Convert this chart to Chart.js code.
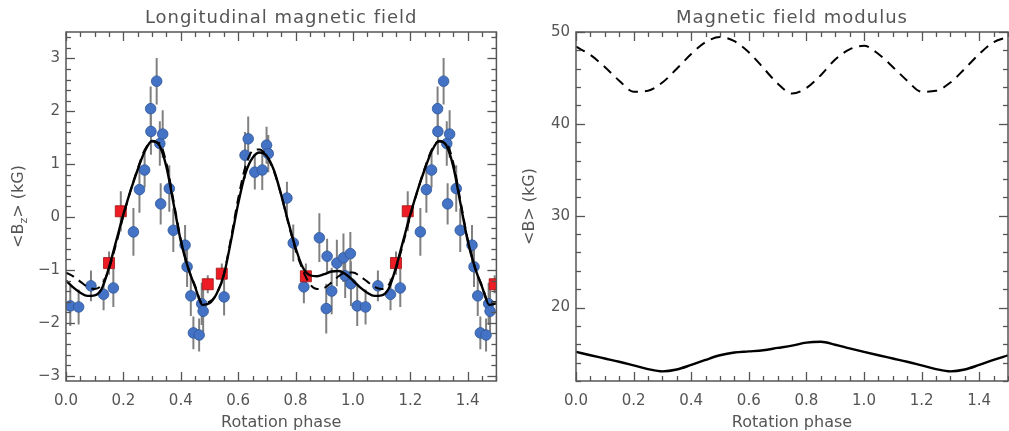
<!DOCTYPE html>
<html><head><meta charset="utf-8">
<script src="https://cdn.jsdelivr.net/npm/chart.js@4.4.1/dist/chart.umd.min.js"></script>
<style>
html,body{margin:0;padding:0;background:#fff;overflow:hidden}
#wrap{position:relative;width:1009px;height:431px;background:#fff}
canvas{position:absolute;top:0}
#c1{left:0}
#c2{left:505px}
</style></head><body>
<div id="wrap"><canvas id="c1" width="505" height="431"></canvas><canvas id="c2" width="504" height="431"></canvas></div>
<script>
// ---------- data ----------
// Longitudinal field measurements (blue circles): phase, <Bz> (kG), error (kG)
const bzPhase = [0.015,0.044,0.087,0.131,0.165,0.235,0.256,0.274,0.295,0.296,0.316,0.327,0.337,0.330,0.360,0.374,0.415,0.422,0.435,0.444,0.464,0.473,0.478,0.551,0.624,0.635,0.658,0.684,0.699,0.705,0.770,0.792,0.829,0.883,0.907,0.910,0.926,0.944,0.967,0.973,0.991,0.993];
const bzValue = [-1.68,-1.70,-1.30,-1.46,-1.34,-0.28,0.52,0.89,2.05,1.62,2.57,1.39,1.57,0.25,0.54,-0.25,-0.53,-0.94,-1.49,-2.19,-2.23,-1.64,-1.78,-1.51,1.17,1.48,0.85,0.89,1.36,1.20,0.36,-0.49,-1.32,-0.39,-1.73,-0.74,-1.40,-0.87,-0.77,-1.11,-0.69,-1.26];
const bzError = [0.38,0.33,0.29,0.30,0.36,0.45,0.44,0.33,0.42,0.44,0.44,0.42,0.45,0.39,0.44,0.41,0.38,0.38,0.38,0.31,0.31,0.40,0.40,0.35,0.44,0.42,0.33,0.38,0.35,0.35,0.31,0.35,0.31,0.46,0.47,0.33,0.44,0.44,0.46,0.42,0.41,0.42];
// Red squares
const sqPhase = [0.150,0.191,0.494,0.543,0.836];
const sqValue = [-0.87,0.11,-1.27,-1.07,-1.12];
const sqError = [0.22,0.38,0.17,0.19,0.24];

// Model curves, left panel, sampled every 0.025 in phase from 0 to 1.5
const bzFitSolid = [-1.20,-1.33,-1.43,-1.49,-1.48,-1.35,-0.95,-0.45,0.05,0.50,0.90,1.25,1.44,1.36,0.95,0.25,-0.45,-0.95,-1.32,-1.66,-1.63,-1.45,-1.10,-0.45,0.25,0.82,1.12,1.22,1.15,0.88,0.42,-0.10,-0.58,-0.95,-1.10,-1.12,-1.08,-1.03,-1.02,-1.08,-1.20,-1.33,-1.43,-1.49,-1.48,-1.35,-0.95,-0.45,0.05,0.50,0.90,1.25,1.44,1.36,0.95,0.25,-0.45,-0.95,-1.32,-1.66,-1.63];
const bzFitDashed = [-1.05,-1.12,-1.22,-1.32,-1.36,-1.28,-0.98,-0.50,0.02,0.50,0.92,1.28,1.43,1.40,1.02,0.30,-0.42,-0.95,-1.30,-1.62,-1.60,-1.45,-1.08,-0.40,0.35,0.95,1.25,1.28,1.15,0.86,0.42,-0.12,-0.62,-1.00,-1.27,-1.36,-1.34,-1.24,-1.12,-1.05,-1.05,-1.12,-1.22,-1.32,-1.36,-1.28,-0.98,-0.50,0.02,0.50,0.92,1.28,1.43,1.40,1.02,0.30,-0.42,-0.95,-1.30,-1.62,-1.60];
// Model curves, right panel, sampled every 0.05 in phase from 0 to 1.5
const bModSolid = [15.17,14.80,14.45,14.10,13.70,13.30,13.05,13.25,13.75,14.30,14.80,15.10,15.22,15.35,15.60,15.85,16.18,16.27,15.95,15.55,15.17,14.80,14.45,14.10,13.70,13.30,13.05,13.25,13.75,14.30,14.80];
const bModDashed = [48.4,47.5,46.2,44.7,43.5,43.6,44.5,46.0,47.6,48.9,49.45,49.0,47.8,46.1,44.4,43.3,43.9,45.3,47.0,48.1,48.5,47.6,46.2,44.7,43.5,43.6,44.5,46.0,47.6,48.9,49.45];

// Tick labels
const phaseTicks = [0.0,0.2,0.4,0.6,0.8,1.0,1.2,1.4];
const bzTicks = [-3,-2,-1,0,1,2,3];
const bModTicks = [20,30,40,50];

// ---------- building library datasets ----------
const fitPhaseL = bzFitSolid.map((_, i) => i * 0.025);
const fitPhaseR = bModSolid.map((_, i) => i * 0.05);
function folded(ph, val) {           // phases < 0.5 are shown again one cycle later
  const out = [];
  ph.forEach((p, i) => { out.push({x: p, y: val[i]}); if (p < 0.5) out.push({x: p + 1, y: val[i]}); });
  return out;
}
function errorBars(ph, val, err) {
  const out = [];
  ph.forEach((p, i) => {
    [p].concat(p < 0.5 ? [p + 1] : []).forEach(x => {
      out.push({x, y: val[i] - err[i]}, {x, y: val[i] + err[i]}, {x, y: null});
    });
  });
  return out;
}

const GRAY = '#555';
const FONT = '"DejaVu Sans", "Liberation Sans", sans-serif';

const decoPlugin = {
  id: 'deco',
  afterDraw(chart, args, o) {
    const ctx = chart.ctx, a = chart.chartArea, xs = chart.scales.x, ys = chart.scales.y;
    ctx.save();
    ctx.strokeStyle = GRAY; ctx.lineWidth = 1.3;
    const seg = (x1, y1, x2, y2) => { ctx.beginPath(); ctx.moveTo(x1, y1); ctx.lineTo(x2, y2); ctx.stroke(); };
    const steps = (min, max, step) => { const r = []; for (let k = Math.ceil(min / step - 1e-9); k * step <= max + 1e-9; k++) r.push(k * step); return r; };
    const isMajor = (v, m) => Math.abs(v / m - Math.round(v / m)) < 1e-6;
    steps(xs.min, xs.max, o.xMinor).forEach(v => {
      const p = Math.round(xs.getPixelForValue(v)) + 0.5;
      const L = isMajor(v, o.xMajor) ? 9 : 5;
      seg(p, a.bottom, p, a.bottom - L); seg(p, a.top, p, a.top + L);
    });
    steps(ys.min, ys.max, o.yMinor).forEach(v => {
      const p = Math.round(ys.getPixelForValue(v)) + 0.5;
      const L = isMajor(v, o.yMajor) ? 9 : 5;
      seg(a.left, p, a.left + L, p); seg(a.right, p, a.right - L, p);
    });
    ctx.lineWidth = 1.5;
    ctx.strokeRect(a.left, a.top, a.right - a.left, a.bottom - a.top);
    // titles
    ctx.fillStyle = GRAY;
    ctx.textAlign = 'center'; ctx.textBaseline = 'alphabetic';
    ctx.font = '18px ' + FONT;
    try { ctx.letterSpacing = '1px'; } catch (e) {}
    ctx.fillText(o.title, (a.left + a.right) / 2, 22.5);
    try { ctx.letterSpacing = '0px'; } catch (e) {}
    ctx.font = '16px ' + FONT;
    ctx.fillText(o.xTitle, (a.left + a.right) / 2, 426.5);
    // y title (runs allow a subscript)
    ctx.save();
    ctx.translate(o.yTitleX, (a.top + a.bottom) / 2);
    ctx.rotate(-Math.PI / 2);
    ctx.textAlign = 'left'; ctx.textBaseline = 'middle';
    let total = 0;
    o.yTitle.forEach(r => { ctx.font = (r.sub ? '11px ' : '16px ') + FONT; total += ctx.measureText(r.t).width; });
    let x = -total / 2;
    o.yTitle.forEach(r => {
      ctx.font = (r.sub ? '11px ' : '16px ') + FONT;
      ctx.fillText(r.t, x, r.sub ? 5 : 0);
      x += ctx.measureText(r.t).width;
    });
    ctx.restore();
    ctx.restore();
  }
};

function tickFmt(v) { return v < 0 ? '\u2212' + Math.abs(v) : String(v); }

function axes(xTicks, yTicks, ymin, ymax, yWidth) {
  return {
    x: {
      type: 'linear', min: 0, max: 1.5,
      grid: {display: false, drawTicks: false}, border: {display: false},
      ticks: {color: GRAY, font: {family: FONT, size: 15}, padding: 11, maxRotation: 0, callback: v => Number(v).toFixed(1)},
      afterBuildTicks: s => { s.ticks = xTicks.map(v => ({value: v})); },
      afterFit: s => { s.height = 50; }
    },
    y: {
      type: 'linear', min: ymin, max: ymax,
      grid: {display: false, drawTicks: false}, border: {display: false},
      ticks: {color: GRAY, font: {family: FONT, size: 15}, padding: 6, callback: v => tickFmt(v)},
      afterBuildTicks: s => { s.ticks = yTicks.map(v => ({value: v})); },
      afterFit: s => { s.width = yWidth; }
    }
  };
}

const common = {
  responsive: false, animation: false, devicePixelRatio: 1,
  events: [],
  plugins: {legend: {display: false}, tooltip: {enabled: false}, title: {display: false}}
};

new Chart(document.getElementById('c1'), {
  type: 'scatter',
  data: {
    datasets: [
      {label: 'fit (solid)', data: fitPhaseL.map((p, i) => ({x: p, y: bzFitSolid[i]})), showLine: true, borderColor: '#000', borderWidth: 2.4, pointRadius: 0, cubicInterpolationMode: 'monotone', clip: 0, order: 1},
      {label: 'fit (dashed)', data: fitPhaseL.map((p, i) => ({x: p, y: bzFitDashed[i]})), showLine: true, borderColor: '#000', borderWidth: 2, borderDash: [9, 6], pointRadius: 0, cubicInterpolationMode: 'monotone', clip: 0, order: 2},
      {label: 'squares', data: folded(sqPhase, sqValue), pointStyle: 'rect', pointRadius: 7.8, backgroundColor: '#ee1c24', borderColor: '#a01010', borderWidth: 0.8, clip: 0, order: 3},
      {label: 'circles', data: folded(bzPhase, bzValue), pointStyle: 'circle', pointRadius: 5.3, backgroundColor: '#4472c4', borderColor: '#2f5597', borderWidth: 0.8, clip: 0, order: 4},
      {label: 'error bars', data: errorBars(bzPhase.concat(sqPhase), bzValue.concat(sqValue), bzError.concat(sqError)), showLine: true, spanGaps: false, borderColor: '#808080', borderWidth: 2, pointRadius: 0, clip: 0, order: 5}
    ]
  },
  options: Object.assign({}, common, {
    layout: {padding: {left: 0, right: 7, top: 32, bottom: 0}},
    scales: axes(phaseTicks, bzTicks, -3.1, 3.5, 66),
    plugins: Object.assign({}, common.plugins, {
      deco: {title: 'Longitudinal magnetic field', xTitle: 'Rotation phase', yTitleX: 19,
             yTitle: [{t: '<B'}, {t: 'z', sub: true}, {t: '> (kG)'}], xMinor: 0.05, xMajor: 0.2, yMinor: 0.2, yMajor: 1}
    })
  }),
  plugins: [decoPlugin]
});

new Chart(document.getElementById('c2'), {
  type: 'scatter',
  data: {
    datasets: [
      {label: 'solid', data: fitPhaseR.map((p, i) => ({x: p, y: bModSolid[i]})), showLine: true, borderColor: '#000', borderWidth: 2.4, pointRadius: 0, cubicInterpolationMode: 'monotone', clip: 0},
      {label: 'dashed', data: fitPhaseR.map((p, i) => ({x: p, y: bModDashed[i]})), showLine: true, borderColor: '#000', borderWidth: 2, borderDash: [10, 7], pointRadius: 0, cubicInterpolationMode: 'monotone', clip: 0}
    ]
  },
  options: Object.assign({}, common, {
    layout: {padding: {left: 0, right: 1, top: 32, bottom: 0}},
    scales: axes(phaseTicks, bModTicks, 12, 50, 71),
    plugins: Object.assign({}, common.plugins, {
      deco: {title: 'Magnetic field modulus', xTitle: 'Rotation phase', yTitleX: 25,
             yTitle: [{t: '<B> (kG)'}], xMinor: 0.05, xMajor: 0.2, yMinor: 2, yMajor: 10}
    })
  }),
  plugins: [decoPlugin]
});
</script>
</body></html>
